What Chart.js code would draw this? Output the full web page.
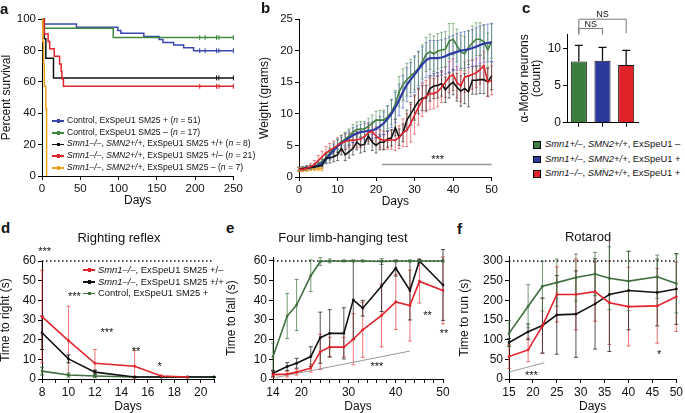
<!DOCTYPE html>
<html>
<head>
<meta charset="utf-8">
<script src="https://cdn.jsdelivr.net/npm/chart.js@4.4.0/dist/chart.umd.min.js"></script>
<style>
  body { margin: 0; background: #fff; font-family: "Liberation Sans", Arial, sans-serif; color: #111; }
  #fig { position: relative; width: 685px; height: 413px; overflow: hidden; }
  canvas { position: absolute; }
  .lbl { position: absolute; font-weight: bold; font-size: 15px; line-height: 15px; }
  .ttl { position: absolute; font-size: 13px; line-height: 13px; white-space: nowrap; transform: translate(-50%, -50%); }
  .leg { position: absolute; white-space: nowrap; }
  .leg .row { position: relative; }
  .leg .s { position: absolute; left: 0; width: 12px; height: 1.5px; }
  .leg .s b { position: absolute; left: 4.5px; top: -1px; width: 3.5px; height: 3.5px; background: inherit; }
  .leg .sq { position: absolute; left: 0; width: 5.5px; height: 5.5px; border: 0.8px solid #000; }
</style>
</head>
<body>
<div id="fig">
  <canvas id="chartA" width="245" height="212" style="left:0;top:0"></canvas>
  <canvas id="chartB" width="250" height="212" style="left:250px;top:0"></canvas>
  <canvas id="chartC" width="140" height="132" style="left:505px;top:0"></canvas>
  <canvas id="chartD" width="222" height="173" style="left:0;top:240px"></canvas>
  <canvas id="chartE" width="231" height="173" style="left:222px;top:240px"></canvas>
  <canvas id="chartF" width="230" height="173" style="left:455px;top:240px"></canvas>

  <div class="lbl" style="left:0;top:1px">a</div>
  <div class="lbl" style="left:261px;top:0">b</div>
  <div class="lbl" style="left:522px;top:0">c</div>
  <div class="lbl" style="left:1px;top:220px">d</div>
  <div class="lbl" style="left:226px;top:220px">e</div>
  <div class="lbl" style="left:457px;top:221px">f</div>

  <div class="ttl" style="left:119px;top:237px">Righting reflex</div>
  <div class="ttl" style="left:343px;top:237px">Four limb-hanging test</div>
  <div class="ttl" style="left:588px;top:236px">Rotarod</div>

  <!-- legend a -->
  <div class="leg" id="legA" style="left:52px;top:115px;font-size:8.6px;line-height:11.7px">
    <div class="row" style="padding-left:15px"><span class="s" style="top:5.3px;background:#3a48ad"><b></b></span>Control, ExSpeU1 SM25 + (<i>n</i> = 51)</div>
    <div class="row" style="padding-left:15px"><span class="s" style="top:5.3px;background:#3f8a3f"><b></b></span>Control, ExSpeU1 SM25 – (<i>n</i> = 17)</div>
    <div class="row" style="padding-left:15px"><span class="s" style="top:5.3px;background:#111"><b></b></span><i>Smn1–/–</i>, <i>SMN2+/+</i>, ExSpeU1 SM25 +/+ (<i>n</i> = 8)</div>
    <div class="row" style="padding-left:15px"><span class="s" style="top:5.3px;background:#e3232b"><b></b></span><i>Smn1–/–</i>, <i>SMN2+/+</i>, ExSpeU1 SM25 +/– (<i>n</i> = 21)</div>
    <div class="row" style="padding-left:15px"><span class="s" style="top:5.3px;background:#f0a21e"><b></b></span><i>Smn1–/–</i>, <i>SMN2+/+</i>, ExSpeU1 SM25 – (<i>n</i> = 7)</div>
  </div>

  <!-- legend c -->
  <div class="leg" id="legC" style="left:533px;top:137px;font-size:9.4px;line-height:14.5px">
    <div class="row" style="padding-left:12px"><span class="sq" style="top:4px;background:#3d7d3d"></span><i>Smn1+/–</i>, <i>SMN2+/+</i>, ExSpeU1 –</div>
    <div class="row" style="padding-left:12px"><span class="sq" style="top:4px;background:#2c3a9c"></span><i>Smn1+/–</i>, <i>SMN2+/+</i>, ExSpeU1 +</div>
    <div class="row" style="padding-left:12px"><span class="sq" style="top:4px;background:#e02328"></span><i>Smn1–/–</i>, <i>SMN2+/+</i>, ExSpeU1 +</div>
  </div>

  <!-- legend d -->
  <div class="leg" id="legD" style="left:83px;top:264px;font-size:9.4px;line-height:11.7px">
    <div class="row" style="padding-left:15px"><span class="s" style="top:5.3px;background:#e3232b"><b></b></span><i>Smn1–/–</i>, ExSpeU1 SM25 +/–</div>
    <div class="row" style="padding-left:15px"><span class="s" style="top:5.3px;background:#111"><b></b></span><i>Smn1–/–</i>, ExSpeU1 SM25 +/+</div>
    <div class="row" style="padding-left:15px"><span class="s" style="top:5.3px;background:#3e6e3e"><b></b></span>Control, ExSpeU1 SM25 +</div>
  </div>
</div>

<script>
// ---------- a: survival (Kaplan-Meier steps) ----------
const kmBlueDays = [0, 3, 45, 99, 103, 133, 153, 158, 172, 185, 198, 250];
const kmBlueSurv = [100, 96.8, 94.7, 92.6, 90.9, 88.9, 87, 85, 83.4, 81.7, 79.8, 79.8];
const kmGreenDays = [0, 3, 93, 250];
const kmGreenSurv = [100, 94.1, 88.2, 88.2];
const kmBlackDays = [0, 3, 5, 15, 250];
const kmBlackSurv = [100, 87.5, 75, 62.5, 62.5];
const kmRedDays = [0, 3, 8, 10, 16, 23, 25, 26, 28, 250];
const kmRedSurv = [100, 90.5, 85.7, 81, 76.2, 71.4, 66.7, 61.9, 57.1, 57.1];
const kmOrangeDays = [0, 1, 2, 3, 5, 6];
const kmOrangeSurv = [100, 85.7, 71.4, 57.1, 42.9, 0];
const censorBlue = [206, 213, 228, 231, 250];
const censorGreen = [206, 213, 228, 231, 250];
const censorBlack = [228, 231, 250];
const censorRed = [206, 228, 231, 250];

// ---------- b: weight ----------
const daysB = [0,1,2,3,4,5,6,7,8,9,10,11,12,13,14,15,16,17,18,19,20,21,22,23,24,25,26,27,28,29,30,31,32,33,34,35,36,37,38,39,40,41,42,43,44,45,46,47,48,49,50];
const weightBlue = [1.3,1.3,1.4,1.5,1.6,1.8,2.2,2.8,3.5,4.2,4.9,5.3,5.8,6.2,6.6,6.9,7.1,7.2,7.3,7.4,7.6,8.0,8.5,9.2,10.0,11.0,12.2,13.5,14.6,15.4,16.2,17.0,17.8,18.5,18.8,18.8,18.8,18.9,19.1,19.4,19.6,19.8,20.0,20.1,20.2,20.4,20.6,20.9,21.1,21.2,21.3];
const weightBlueErr = [0.3,0.3,0.3,0.3,0.4,0.5,0.6,0.7,0.8,0.9,1.0,1.0,1.1,1.1,1.2,1.2,1.2,1.3,1.3,1.3,1.4,1.6,1.8,2.0,2.2,2.4,2.5,2.6,2.7,2.7,2.8,2.8,2.8,2.8,2.8,2.8,2.8,2.8,2.8,2.8,2.8,2.9,2.9,2.9,2.9,2.9,3.0,3.0,3.0,3.0,3.0];
const weightGreen = [1.3,1.3,1.4,1.5,1.7,2.0,2.5,3.0,3.8,4.5,5.0,5.6,6.0,6.5,7.1,7.5,7.6,7.6,8.0,8.5,9.0,9.0,9.0,9.5,10.3,11.5,13.5,14.6,15.4,16.0,16.5,17.2,18.2,19.4,19.8,19.5,19.9,20.1,20.2,21.5,21.8,20.8,19.8,19.5,20.5,21.2,21.8,21.8,21.4,20.1,21.5];
const weightGreenErr = [0.3,0.3,0.3,0.3,0.4,0.5,0.6,0.7,0.8,0.9,1.0,1.0,1.1,1.1,1.2,1.2,1.2,1.2,1.3,1.3,1.4,1.5,1.6,1.8,2.0,2.2,2.4,2.5,2.6,2.6,2.7,2.7,2.7,2.7,2.8,2.8,2.8,2.8,2.8,2.8,2.5,2.6,2.6,2.7,2.7,2.7,2.6,2.6,2.6,2.7,2.7];
const weightRed = [1.2,1.2,1.4,1.6,2.0,2.6,3.2,3.8,4.2,4.6,5.0,5.4,5.6,5.8,5.8,5.9,6.0,6.4,7.0,7.2,6.5,6.0,5.8,5.8,5.9,5.8,6.3,7.0,7.4,8.5,9.8,11.0,12.2,12.8,13.2,13.2,13.5,14.2,15.0,15.8,16.2,15.0,14.4,15.8,16.0,16.2,16.5,17.0,17.6,15.0,15.3];
const weightRedErr = [0.3,0.3,0.4,0.5,0.6,0.8,0.9,1.0,1.1,1.1,1.2,1.2,1.2,1.2,1.2,1.3,1.3,1.3,1.4,1.4,1.4,1.4,1.4,1.4,1.5,1.6,1.8,2.2,2.6,3.0,3.0,2.8,2.6,2.5,2.5,2.4,2.4,2.4,2.4,2.5,2.5,2.5,2.5,2.4,2.4,2.3,2.3,2.3,2.3,2.3,2.3];
const weightBlack = [1.2,1.3,1.4,1.5,1.6,1.7,1.8,3.0,3.0,3.2,3.5,4.5,3.5,4.0,4.5,5.5,5.0,5.2,6.5,5.5,5.0,5.5,5.5,6.0,6.2,7.8,6.3,7.0,9.0,10.0,11.0,12.0,12.5,12.5,14.0,14.4,14.5,14.8,13.8,14.5,15.0,14.2,13.6,14.0,13.5,15.3,15.3,15.4,15.4,15.0,16.0];
const weightBlackErr = [0.3,0.3,0.3,0.3,0.3,0.4,0.4,0.8,0.8,0.8,0.9,1.0,0.9,1.0,1.0,1.2,1.2,1.2,1.3,1.3,1.2,1.2,1.2,1.3,1.3,1.3,1.3,1.4,1.6,1.8,2.0,2.0,2.0,2.0,2.0,2.0,2.0,2.0,2.0,2.0,2.0,2.2,2.4,2.4,2.4,2.2,2.2,2.2,2.2,2.2,2.2];
const daysOrange = [0,1,2,3,4,5,6];
const weightOrange = [1.2,1.2,1.2,1.3,1.3,1.3,1.3];
const weightOrangeErr = [0.3,0.3,0.3,0.3,0.3,0.3,0.3];
const sigLineB = [{x: 21.5, y: 1.96}, {x: 50, y: 1.96}];
const starsB = [{x: 36, y: 3.1, t: "***"}];

// ---------- c: motor neurons ----------
const groupsC = ["Smn1+/–, SMN2+/+, ExSpeU1 –", "Smn1+/–, SMN2+/+, ExSpeU1 +", "Smn1–/–, SMN2+/+, ExSpeU1 +"];
const neuronsC = [8.3, 8.4, 7.8];
const neuronsCErr = [2.15, 1.8, 2.0];
const bracketsC = [
  {from: 0, to: 1, y: 12.75, leg: 11.9, text: "NS", ty: 13.3},
  {from: 0, to: 2, y: 14.0, leg: 12.1, text: "NS", ty: 14.7}
];

// ---------- d: righting reflex ----------
const daysD = [8, 10, 12, 15, 17, 19, 21];
const daysDRed = [8, 10, 12, 15, 17, 19];
const rightRed = [31.7, 19.5, 8, 6.5, 1.5, 1];
const rightRedErr = [23.6, 17.5, 7, 8, 0.5, 0.3];
const rightBlack = [23.5, 10.2, 3.5, 1, 1, 1, 1];
const rightBlackErr = [8.5, 2, 1, 0.3, 0.2, 0.2, 0.2];
const rightGreen = [4, 2, 1.5, 1, 1, 1, 1];
const rightGreenErr = [2, 1, 0.8, 0.3, 0.2, 0.2, 0.2];
const starsD = [
  {x: 8.2, y: 65.6, t: "***"}, {x: 10.45, y: 43, t: "***"}, {x: 12.9, y: 24.4, t: "***"},
  {x: 15.1, y: 15.1, t: "**"}, {x: 16.9, y: 7.1, t: "*"}
];

// ---------- e: four limb-hanging ----------
const daysE = [14, 17, 19, 22, 24, 26, 29, 31, 33, 37, 40, 43, 45, 50];
const hangGreen = [11.3, 32, 37.6, 52.5, 59.7, 60, 60, 60, 60, 59.7, 60, 60, 60, 60];
const hangGreenErr = [7, 11.5, 13, 8, 2, 1, 0.5, 0.5, 0.5, 1.5, 0.5, 0.5, 0.5, 0.5];
const hangBlack = [2.9, 6.3, 8, 11.4, 21, 23.2, 23.2, 40.2, 36, 47.3, 56.3, 45, 60, 47.8];
const hangBlackErr = [1.5, 2, 2.5, 5, 13, 12, 13, 20, 4, 13, 4, 15, 1, 18];
const hangRed = [2.2, 2.5, 3.5, 5.5, 13.8, 16.2, 16.2, 20.2, 25, 32.3, 39.2, 37.3, 49.6, 45];
const hangRedErr = [1.5, 1.5, 1.5, 2, 9, 5, 5, 13, 14, 16, 14, 18, 11, 17];
const sigLineE = [{x: 14.5, y: 0.7}, {x: 43, y: 14.2}];
const starsE = [{x: 36, y: 7.1, t: "***"}, {x: 46.7, y: 33.4, t: "**"}, {x: 50.2, y: 24, t: "**"}];

// ---------- f: rotarod ----------
const daysF = [15, 19, 22, 25, 29, 33, 36, 40, 46, 50];
const rotaGreen = [116, 185, 236, 245, 258, 267, 256, 249, 260, 243];
const rotaGreenErr = [33, 55, 63, 60, 60, 55, 80, 75, 55, 75];
const rotaBlack = [93, 120, 136, 163, 165, 191, 215, 225, 220, 229];
const rotaBlackErr = [10, 20, 70, 100, 110, 115, 145, 100, 85, 90];
const rotaRed = [57, 74, 135, 215, 215, 222, 194, 184, 186, 209];
const rotaRedErr = [30, 30, 70, 70, 90, 75, 106, 100, 95, 88];
const sigLineF = [{x: 14.8, y: 17}, {x: 22.4, y: 41.5}];
const starsF = [{x: 19.7, y: 14.4, t: "***"}, {x: 46.4, y: 66, t: "*"}];

// ---------- helpers ----------
const SANS = '"Liberation Sans", Arial, Helvetica, sans-serif';
Chart.defaults.font.family = SANS;
Chart.defaults.color = "#111";
Chart.defaults.animation = false;

const pts = (xs, ys) => xs.map((x, i) => ({x: x, y: ys[i]}));

function errBars(cap, after, upperOnly, width) {
  function draw(chart) {
    const ctx = chart.ctx;
    const ys = chart.scales.y;
    chart.data.datasets.forEach((ds, i) => {
      if (!ds.err) return;
      const meta = chart.getDatasetMeta(i);
      ctx.save();
      ctx.strokeStyle = ds.errColor || ds.borderColor;
      ctx.lineWidth = width || 1;
      meta.data.forEach((el, j) => {
        const e = ds.err[j];
        if (!e) return;
        const raw = ds.data[j];
        const v = typeof raw === "object" ? raw.y : raw;
        const yt = ys.getPixelForValue(v + e);
        const yb = upperOnly ? el.y : ys.getPixelForValue(Math.max(v - e, ys.min));
        ctx.beginPath();
        ctx.moveTo(el.x, yt); ctx.lineTo(el.x, yb);
        ctx.moveTo(el.x - cap, yt); ctx.lineTo(el.x + cap, yt);
        if (!upperOnly) { ctx.moveTo(el.x - cap, yb); ctx.lineTo(el.x + cap, yb); }
        ctx.stroke();
      });
      ctx.restore();
    });
  }
  return after ? {id: "errA", afterDatasetsDraw: draw} : {id: "errB", beforeDatasetsDraw: draw};
}

function notes(items, size) {
  return {
    id: "notes",
    afterDraw(chart) {
      const ctx = chart.ctx;
      ctx.save();
      ctx.font = size + "px " + SANS;
      ctx.fillStyle = "#111";
      ctx.textAlign = "center";
      ctx.textBaseline = "middle";
      items.forEach(n => {
        ctx.fillText(n.t, chart.scales.x.getPixelForValue(n.x), chart.scales.y.getPixelForValue(n.y) + size * 0.22);
      });
      ctx.restore();
    }
  };
}

function linAxis(o) {
  const ax = {
    type: "linear", min: o.min, max: o.max,
    border: {display: true, color: "#000", width: 1},
    grid: {drawOnChartArea: false, drawTicks: true, tickLength: 4, color: "#000"},
    ticks: {color: "#111", font: {size: o.fs || 12}, padding: 2, autoSkip: false, maxRotation: 0},
    title: {display: !!o.title, text: o.title || "", color: "#111",
            font: {size: 12, lineHeight: 1}, padding: {top: o.tp || 0, bottom: o.tp || 0}},
    afterFit: s => { if (o.w != null) s.width = o.w; if (o.h != null) s.height = o.h; }
  };
  if (o.step) ax.ticks.stepSize = o.step;
  if (o.cb) ax.ticks.callback = o.cb;
  if (o.ticks) ax.afterBuildTicks = s => { s.ticks = o.ticks.map(v => ({value: v})); };
  return ax;
}

const basePlugins = {legend: {display: false}, tooltip: {enabled: false}, title: {display: false}};

function lineSet(data, color, width, extra) {
  return Object.assign({
    data: data, borderColor: color, backgroundColor: color, borderWidth: width,
    pointRadius: 0, fill: false, tension: 0, clip: false
  }, extra || {});
}

// ---------- chart a ----------
const censor = (days, surv, color) => lineSet(days.map(d => ({x: d, y: surv})), color, 1,
  {showLine: false, pointRadius: 2.5, pointStyle: "line", rotation: 90, pointBorderWidth: 1});

new Chart(document.getElementById("chartA"), {
  type: "line",
  data: {datasets: [
    lineSet(pts(kmOrangeDays, kmOrangeSurv), "#f0a21e", 1.5, {stepped: true}),
    lineSet(pts(kmRedDays, kmRedSurv), "#e3232b", 1.5, {stepped: true}),
    lineSet(pts(kmBlackDays, kmBlackSurv), "#111", 1.5, {stepped: true}),
    lineSet(pts(kmGreenDays, kmGreenSurv), "#3f8a3f", 1.5, {stepped: true}),
    lineSet(pts(kmBlueDays, kmBlueSurv), "#3a48ad", 1.5, {stepped: true}),
    censor(censorBlue, 79.8, "#3a48ad"),
    censor(censorGreen, 88.2, "#3f8a3f"),
    censor(censorBlack, 62.5, "#111"),
    censor(censorRed, 57.1, "#e3232b")
  ]},
  options: {
    responsive: false,
    layout: {padding: {top: 19, right: 10, left: 0, bottom: 0}},
    plugins: basePlugins,
    scales: {
      x: linAxis({min: 0, max: 250, step: 50, title: "Days", h: 36, fs: 11.5, tp: 5}),
      y: linAxis({min: 0, max: 100, step: 20, title: "Percent survival", w: 42, fs: 11.5, tp: 0.7})
    }
  }
});

// ---------- chart b ----------
new Chart(document.getElementById("chartB"), {
  type: "line",
  data: {datasets: [
    lineSet(pts(daysB, weightRed), "#e3232b", 1.6, {err: weightRedErr, errColor: "rgba(230,50,50,0.75)"}),
    lineSet(pts(daysB, weightBlack), "#111", 1.6, {err: weightBlackErr, errColor: "rgba(30,30,30,0.75)"}),
    lineSet(pts(daysB, weightBlue), "#2c3aa6", 2.2, {err: weightBlueErr, errColor: "rgba(60,80,200,0.75)"}),
    lineSet(pts(daysB, weightGreen), "#3f7f3f", 1.6, {err: weightGreenErr, errColor: "rgba(70,140,70,0.75)"}),
    lineSet(pts(daysOrange, weightOrange), "#f0a21e", 1.6, {err: weightOrangeErr}),
    lineSet(sigLineB, "#9a9a9a", 1.5)
  ]},
  options: {
    responsive: false,
    layout: {padding: {top: 19, right: 5, left: 0, bottom: 0}},
    plugins: basePlugins,
    scales: {
      x: linAxis({min: 0, max: 50, step: 10, title: "Days", h: 35, fs: 11.5, tp: 4}),
      y: linAxis({min: 0, max: 25, step: 5, title: "Weight (grams)", w: 49, fs: 11.5, tp: 9})
    }
  },
  plugins: [errBars(1.5, false, false, 0.8), notes(starsB, 11)]
});

// ---------- chart c ----------
const brackets = {
  id: "brackets",
  afterDraw(chart) {
    const ctx = chart.ctx;
    const meta = chart.getDatasetMeta(0);
    const ys = chart.scales.y;
    ctx.save();
    ctx.strokeStyle = "#777";
    ctx.lineWidth = 1;
    ctx.fillStyle = "#111";
    ctx.font = "9px " + SANS;
    ctx.textAlign = "center";
    ctx.textBaseline = "middle";
    bracketsC.forEach(b => {
      const x1 = meta.data[b.from].x, x2 = meta.data[b.to].x;
      const y = ys.getPixelForValue(b.y), yl = ys.getPixelForValue(b.leg);
      ctx.beginPath();
      ctx.moveTo(x1, yl); ctx.lineTo(x1, y); ctx.lineTo(x2, y); ctx.lineTo(x2, yl);
      ctx.stroke();
      ctx.fillText(b.text, (x1 + x2) / 2, ys.getPixelForValue(b.ty));
    });
    ctx.restore();
  }
};

const axC = linAxis({min: 0, max: 12, ticks: [0, 5, 10], title: ["α-Motor neurons", "(count)"], w: 62, fs: 12, tp: 14});
new Chart(document.getElementById("chartC"), {
  type: "bar",
  data: {
    labels: groupsC,
    datasets: [{
      data: neuronsC, err: neuronsCErr, errColor: "#111",
      backgroundColor: ["#3d7d3d", "#2c3a9c", "#e02328"],
      borderColor: "#111", borderWidth: 1,
      barPercentage: 0.68, categoryPercentage: 1
    }]
  },
  options: {
    responsive: false,
    layout: {padding: {top: 34, right: 7, left: 0, bottom: 0}},
    plugins: basePlugins,
    scales: {
      x: {
        type: "category", offset: true,
        border: {display: true, color: "#000", width: 1},
        grid: {offset: false, drawOnChartArea: false, tickLength: 4, color: "#000"},
        ticks: {callback: () => ""},
        afterFit: s => { s.height = 5; }
      },
      y: axC
    }
  },
  plugins: [errBars(4, true, true, 1.3), brackets]
});

// ---------- chart d ----------
const ceiling = (x0, x1, y) => lineSet([{x: x0, y: y}, {x: x1, y: y}], "#111", 1.5, {borderDash: [1.5, 2.5]});
const marker = {pointRadius: 1.3, pointStyle: "rect", pointBorderWidth: 0.6};

new Chart(document.getElementById("chartD"), {
  type: "line",
  data: {datasets: [
    lineSet(pts(daysDRed, rightRed), "#e3232b", 1.6, Object.assign({err: rightRedErr, errColor: "rgba(230,60,60,0.8)"}, marker)),
    lineSet(pts(daysD, rightBlack), "#111", 1.6, Object.assign({err: rightBlackErr}, marker)),
    lineSet(pts(daysD, rightGreen), "#3e6e3e", 1.6, Object.assign({err: rightGreenErr}, marker)),
    ceiling(8, 21, 60)
  ]},
  options: {
    responsive: false,
    layout: {padding: {top: 21, right: 8, left: 0, bottom: 0}},
    plugins: basePlugins,
    scales: {
      x: linAxis({min: 8, max: 21, ticks: [8,9,10,11,12,13,14,15,16,17,18,19,20,21],
                  cb: v => (v % 2 === 0 && v <= 20 ? v : ""), title: "Days", h: 34, tp: 0}),
      y: linAxis({min: 0, max: 60, step: 10, title: "Time to right (s)", w: 42, tp: 0})
    }
  },
  plugins: [errBars(2, false, false, 0.9), notes(starsD, 11)]
});

// ---------- chart e ----------
new Chart(document.getElementById("chartE"), {
  type: "line",
  data: {datasets: [
    lineSet(pts(daysE, hangGreen), "#3e6e3e", 1.6, Object.assign({err: hangGreenErr, errColor: "rgba(70,120,70,0.85)"}, marker)),
    lineSet(pts(daysE, hangRed), "#e3232b", 1.6, Object.assign({err: hangRedErr, errColor: "rgba(230,60,60,0.8)"}, marker)),
    lineSet(pts(daysE, hangBlack), "#111", 1.6, Object.assign({err: hangBlackErr, errColor: "rgba(30,30,30,0.85)"}, marker)),
    lineSet(sigLineE, "#9a9a9a", 1),
    ceiling(14, 50, 60)
  ]},
  options: {
    responsive: false,
    layout: {padding: {top: 17, right: 10, left: 0, bottom: 0}},
    plugins: basePlugins,
    scales: {
      x: linAxis({min: 14, max: 50, ticks: [14,16,18,20,22,24,26,28,30,32,34,36,38,40,42,44,46,48,50],
                  cb: v => ([14, 20, 30, 40, 50].includes(v) ? v : ""), title: "Days", h: 34, tp: 0}),
      y: linAxis({min: 0, max: 62, ticks: [0, 10, 20, 30, 40, 50, 60], title: "Time to fall (s)", w: 51, tp: 3.5})
    }
  },
  plugins: [errBars(2, false, false, 0.9), notes(starsE, 11)]
});

// ---------- chart f ----------
new Chart(document.getElementById("chartF"), {
  type: "line",
  data: {datasets: [
    lineSet(pts(daysF, rotaRed), "#e3232b", 1.6, Object.assign({err: rotaRedErr, errColor: "rgba(230,60,60,0.8)"}, marker)),
    lineSet(pts(daysF, rotaBlack), "#111", 1.6, Object.assign({err: rotaBlackErr, errColor: "rgba(30,30,30,0.85)"}, marker)),
    lineSet(pts(daysF, rotaGreen), "#3e6e3e", 1.6, Object.assign({err: rotaGreenErr, errColor: "rgba(70,120,70,0.85)"}, marker)),
    lineSet(sigLineF, "#9a9a9a", 1),
    ceiling(15, 50, 300)
  ]},
  options: {
    responsive: false,
    layout: {padding: {top: 16.3, right: 6, left: 0, bottom: 0}},
    plugins: basePlugins,
    scales: {
      x: linAxis({min: 15, max: 50, ticks: [15, 20, 25, 30, 35, 40, 45, 50], title: "Days", h: 34, tp: 0}),
      y: linAxis({min: 0, max: 312, ticks: [0, 50, 100, 150, 200, 250, 300], title: "Time to run (s)", w: 54, tp: 4})
    }
  },
  plugins: [errBars(2, false, false, 0.9), notes(starsF, 11)]
});
</script>
</body>
</html>
